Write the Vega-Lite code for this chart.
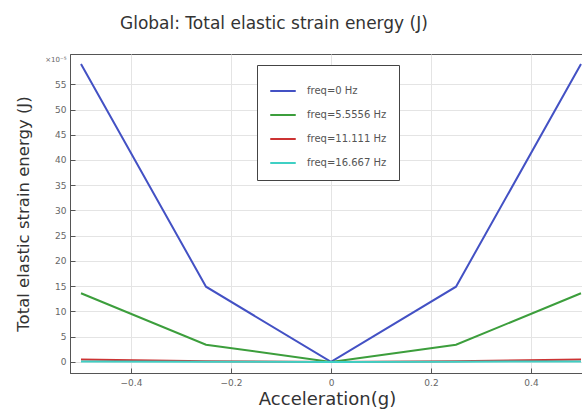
{
  "$schema": "https://vega.github.io/schema/vega-lite/v6.json",
  "width": 514,
  "height": 319,
  "padding": {"left": 70, "top": 54, "right": 0, "bottom": 41},
  "autosize": {"type": "none"},
  "background": "white",
  "title": {
    "text": "Global: Total elastic strain energy (J)",
    "anchor": "start",
    "frame": "group",
    "dx": 50,
    "offset": 21,
    "fontSize": 17,
    "font": "DejaVu Sans",
    "fontWeight": "normal",
    "color": "#333333"
  },
  "config": {
    "view": {"stroke": "#555555", "strokeWidth": 1},
    "font": "DejaVu Sans"
  },
  "data": {
    "values": [
      {"a": -0.5, "e": 59.0, "s": "freq=0 Hz"},
      {"a": -0.25, "e": 14.9, "s": "freq=0 Hz"},
      {"a": 0, "e": 0.0, "s": "freq=0 Hz"},
      {"a": 0.25, "e": 14.9, "s": "freq=0 Hz"},
      {"a": 0.5, "e": 59.0, "s": "freq=0 Hz"},
      {"a": -0.5, "e": 13.6, "s": "freq=5.5556 Hz"},
      {"a": -0.25, "e": 3.4, "s": "freq=5.5556 Hz"},
      {"a": 0, "e": 0.0, "s": "freq=5.5556 Hz"},
      {"a": 0.25, "e": 3.4, "s": "freq=5.5556 Hz"},
      {"a": 0.5, "e": 13.6, "s": "freq=5.5556 Hz"},
      {"a": -0.5, "e": 0.45, "s": "freq=11.111 Hz"},
      {"a": -0.25, "e": 0.12, "s": "freq=11.111 Hz"},
      {"a": 0, "e": 0.0, "s": "freq=11.111 Hz"},
      {"a": 0.25, "e": 0.12, "s": "freq=11.111 Hz"},
      {"a": 0.5, "e": 0.45, "s": "freq=11.111 Hz"},
      {"a": -0.5, "e": 0.1, "s": "freq=16.667 Hz"},
      {"a": -0.25, "e": 0.03, "s": "freq=16.667 Hz"},
      {"a": 0, "e": 0.0, "s": "freq=16.667 Hz"},
      {"a": 0.25, "e": 0.03, "s": "freq=16.667 Hz"},
      {"a": 0.5, "e": 0.1, "s": "freq=16.667 Hz"}
    ]
  },
  "mark": {"type": "line", "strokeWidth": 2, "clip": true},
  "encoding": {
    "x": {
      "field": "a",
      "type": "quantitative",
      "scale": {"domain": [-0.522, 0.506], "nice": false, "zero": false},
      "axis": {
        "title": "Acceleration(g)",
        "titleFontSize": 18,
        "titleFontWeight": "normal",
        "titleColor": "#333333",
        "titlePadding": 3,
        "values": [-0.4, -0.2, 0, 0.2, 0.4],
        "format": ".1~f",
        "labelFontSize": 9,
        "labelColor": "#666666",
        "labelPadding": 10,
        "tickSize": -5,
        "tickColor": "#555555",
        "domainColor": "#555555",
        "gridColor": "#e4e4e4"
      }
    },
    "y": {
      "field": "e",
      "type": "quantitative",
      "scale": {"domain": [-2.2, 61], "nice": false, "zero": false},
      "axis": {
        "title": "Total elastic strain energy (J)",
        "titleFontSize": 16.5,
        "titleFontWeight": "normal",
        "titleColor": "#333333",
        "titlePadding": 13,
        "values": [0, 5, 10, 15, 20, 25, 30, 35, 40, 45, 50, 55, 60],
        "labelExpr": "datum.value == 60 ? '×10⁻⁵' : datum.label",
        "labelFontSize": {"condition": {"test": "datum.value == 60", "value": 7}, "value": 9},
        "labelColor": "#666666",
        "labelPadding": 9,
        "tickSize": -5,
        "tickColor": {"condition": {"test": "datum.value == 60", "value": "transparent"}, "value": "#555555"},
        "domainColor": "#555555",
        "gridColor": {"condition": {"test": "datum.value == 60", "value": "transparent"}, "value": "#e4e4e4"}
      }
    },
    "color": {
      "field": "s",
      "type": "nominal",
      "sort": ["freq=0 Hz", "freq=5.5556 Hz", "freq=11.111 Hz", "freq=16.667 Hz"],
      "scale": {
        "domain": ["freq=0 Hz", "freq=5.5556 Hz", "freq=11.111 Hz", "freq=16.667 Hz"],
        "range": ["#4351c4", "#3c9e3c", "#cc3333", "#3fd0c4"]
      },
      "legend": {
        "title": null,
        "orient": "none",
        "legendX": 187,
        "legendY": 11,
        "fillColor": "white",
        "strokeColor": "#444444",
        "padding": 12,
        "symbolType": "stroke",
        "symbolSize": 650,
        "symbolStrokeWidth": 2,
        "labelFontSize": 10,
        "labelColor": "#555555",
        "labelOffset": 10,
        "rowPadding": 5,
        "labelLimit": 200
      }
    }
  }
}
